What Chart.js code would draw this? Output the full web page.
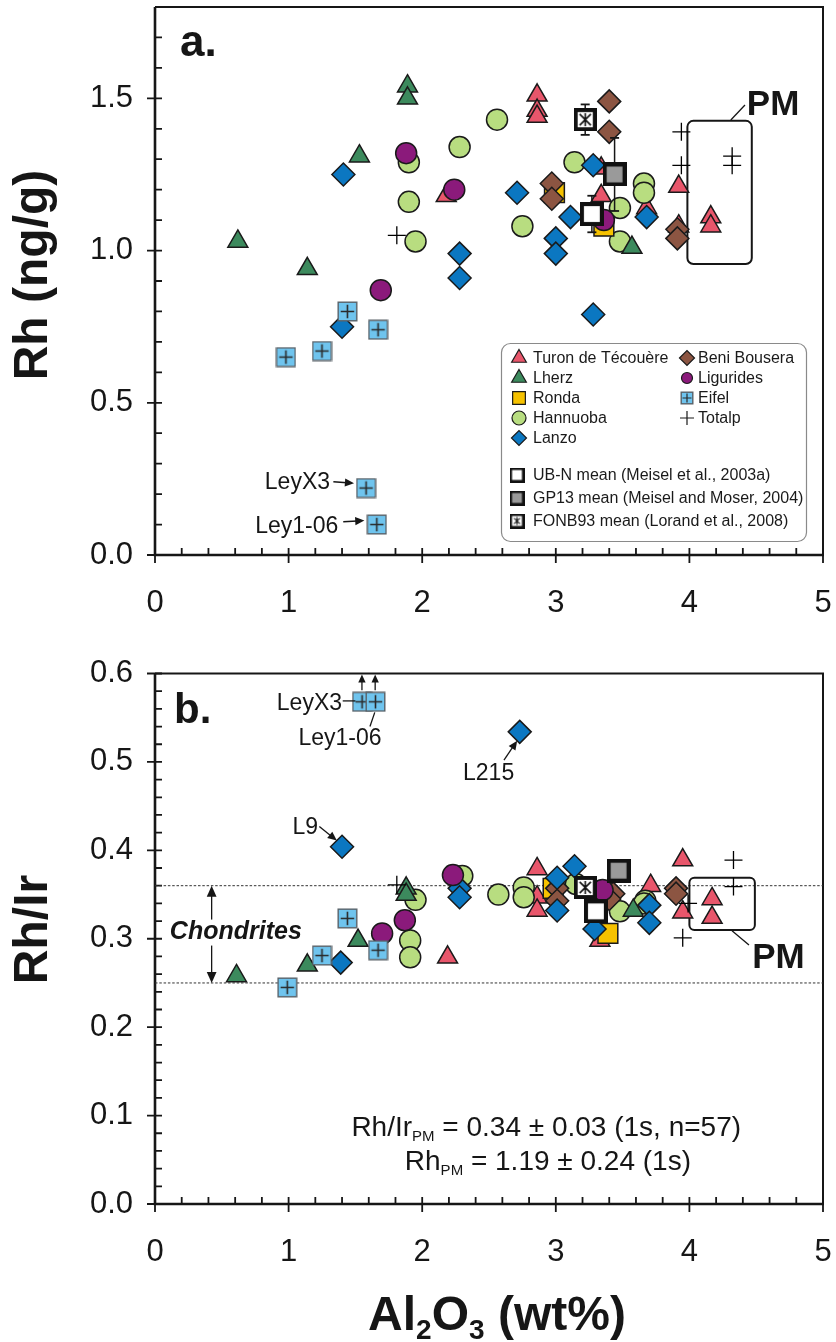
<!DOCTYPE html>
<html>
<head>
<meta charset="utf-8">
<script src="https://cdn.jsdelivr.net/npm/chart.js@4.4.1/dist/chart.umd.min.js"></script>
<style>
html, body { margin: 0; padding: 0; background: #fff; }
#page { position: relative; width: 836px; height: 1342px; overflow: hidden; }
#ca { position: absolute; left: 0; top: 0; }
#cb { position: absolute; left: 0; top: 625px; }
</style>
</head>
<body>
<div id="page">
  <canvas id="ca" width="836" height="625"></canvas>
  <canvas id="cb" width="836" height="717"></canvas>
</div>
<script>
// categories / ticks
const groupNames = ['Turon de Técouère', 'Lherz', 'Ronda', 'Hannuoba', 'Lanzo', 'Beni Bousera', 'Ligurides', 'Eifel', 'Totalp'];
const meanNames = ['UB-N mean (Meisel et al., 2003a)', 'GP13 mean (Meisel and Moser, 2004)', 'FONB93 mean (Lorand et al., 2008)'];
const xTicks = [0, 1, 2, 3, 4, 5];
const yTicksA = [0, 0.5, 1.0, 1.5];
const yTicksB = [0, 0.1, 0.2, 0.3, 0.4, 0.5, 0.6];

// panel a : Al2O3 (wt%) vs Rh (ng/g)
const turonAlA = [2.86, 2.86, 2.86, 2.18, 3.34, 3.34, 3.68, 3.92, 4.16, 4.16, 3.92];
const turonRhA = [1.51, 1.46, 1.44, 1.18, 1.27, 1.18, 1.14, 1.21, 1.11, 1.08, 1.08];
const lherzAlA = [1.89, 1.89, 1.53, 0.62, 1.14, 3.57];
const lherzRhA = [1.54, 1.50, 1.31, 1.03, 0.94, 1.01];
const rondaAlA = [2.99, 3.36];
const rondaRhA = [1.19, 1.08];
const hannAlA = [2.56, 2.28, 1.90, 1.90, 1.95, 3.14, 3.66, 3.66, 2.75, 3.48, 3.48];
const hannRhA = [1.43, 1.34, 1.29, 1.16, 1.03, 1.29, 1.22, 1.19, 1.08, 1.14, 1.03];
const lanzoAlA = [1.41, 2.28, 2.28, 1.40, 2.71, 3.28, 3.11, 3.00, 3.00, 3.68, 3.28];
const lanzoRhA = [1.25, 0.99, 0.91, 0.75, 1.19, 1.28, 1.11, 1.04, 0.99, 1.11, 0.79];
const beniAlA = [3.40, 3.40, 2.97, 2.97, 3.91, 3.91];
const beniRhA = [1.49, 1.39, 1.22, 1.17, 1.07, 1.04];
const ligAlA = [1.88, 2.24, 1.69, 3.36];
const ligRhA = [1.32, 1.20, 0.87, 1.10];
const eifelAlA = [1.44, 1.67, 1.25, 0.98, 1.58, 1.66];
const eifelRhA = [0.80, 0.74, 0.67, 0.65, 0.22, 0.10];
const totalpAlA = [1.81, 3.94, 3.94, 4.32, 4.32];
const totalpRhA = [1.05, 1.39, 1.28, 1.31, 1.28];
const meanAlA = [3.27, 3.44, 3.22];
const meanRhA = [1.12, 1.25, 1.43];
const meanRhErr = [0.06, 0.12, 0.05];

// panel b : Al2O3 (wt%) vs Rh/Ir
const turonAlB = [2.86, 2.86, 2.86, 2.19, 3.71, 3.95, 3.95, 4.17, 4.17, 3.33];
const turonRatioB = [0.379, 0.347, 0.332, 0.279, 0.360, 0.389, 0.330, 0.345, 0.324, 0.298];
const lherzAlB = [0.61, 1.14, 1.52, 1.88, 1.88, 3.58];
const lherzRatioB = [0.258, 0.270, 0.298, 0.357, 0.350, 0.332];
const rondaAlB = [3.39, 2.98];
const rondaRatioB = [0.306, 0.357];
const hannAlB = [1.95, 1.91, 1.91, 2.30, 2.57, 2.76, 2.76, 3.15, 3.48, 3.67, 3.66];
const hannRatioB = [0.344, 0.298, 0.279, 0.371, 0.350, 0.358, 0.347, 0.362, 0.331, 0.343, 0.340];
const lanzoAlB = [2.73, 1.40, 1.39, 2.28, 2.28, 3.01, 3.01, 3.14, 3.29, 3.70, 3.70];
const lanzoRatioB = [0.534, 0.404, 0.273, 0.357, 0.347, 0.369, 0.332, 0.382, 0.311, 0.338, 0.318];
const beniAlB = [3.01, 3.01, 3.43, 3.40, 3.90, 3.90];
const beniRatioB = [0.357, 0.343, 0.351, 0.345, 0.357, 0.351];
const ligAlB = [2.23, 1.87, 1.70, 3.35];
const ligRatioB = [0.372, 0.321, 0.306, 0.355];
const eifelAlB = [1.55, 1.65, 1.44, 1.67, 1.25, 0.99];
const eifelRatioB = [0.568, 0.568, 0.323, 0.287, 0.281, 0.245];
const totalpAlB = [1.81, 4.33, 4.33, 3.95, 3.99];
const totalpRatioB = [0.361, 0.389, 0.359, 0.301, 0.340];
const meanAlB = [3.30, 3.47, 3.22];
const meanRatioB = [0.331, 0.377, 0.358];

// chondrite range
const chondriteRange = [0.25, 0.36];

const SANS = "'Liberation Sans', Arial, sans-serif";
const TICKF = "'Liberation Sans', Arial, sans-serif";
const INK = '#161616';

function pts(xs, ys) { return xs.map((x, i) => ({ x: x, y: ys[i] })); }

function makeImg(size, fn) {
  const c = document.createElement('canvas');
  c.width = size; c.height = size;
  fn(c.getContext('2d'), size);
  return c;
}
function eifelImg(s) {
  return makeImg(s, (g, s) => {
    g.fillStyle = '#6fc4ee'; g.fillRect(1, 1, s - 2, s - 2);
    g.strokeStyle = '#5a6268'; g.lineWidth = 1.4; g.strokeRect(1.2, 1.2, s - 2.4, s - 2.4);
    g.strokeStyle = '#2a2a2a'; g.lineWidth = s > 16 ? 1.6 : 1.2;
    g.beginPath();
    g.moveTo(s / 2, s * 0.18); g.lineTo(s / 2, s * 0.82);
    g.moveTo(s * 0.18, s / 2); g.lineTo(s * 0.82, s / 2);
    g.stroke();
  });
}
function meanImg(s, fill, star) {
  return makeImg(s, (g, s) => {
    const b = Math.max(2.5, s * 0.17);
    g.fillStyle = '#111'; g.fillRect(0, 0, s, s);
    g.fillStyle = fill; g.fillRect(b, b, s - 2 * b, s - 2 * b);
    if (star) {
      const m = b + 2, e = s - b - 2;
      g.strokeStyle = '#111'; g.lineWidth = s > 16 ? 1.6 : 1.1;
      g.beginPath();
      g.moveTo(m, m); g.lineTo(e, e); g.moveTo(e, m); g.lineTo(m, e);
      g.moveTo(s / 2, m - 1); g.lineTo(s / 2, e + 1);
      g.stroke();
    }
  });
}

const styles = {
  'Turon de Técouère': { pointStyle: 'triangle', r: 11.5, bg: '#e8566b', order: 10 },
  'Lherz': { pointStyle: 'triangle', r: 11.5, bg: '#3c8a5d', order: 8 },
  'Ronda': { pointStyle: 'rect', r: 14, bg: '#f6c200', order: 7 },
  'Hannuoba': { pointStyle: 'circle', r: 10.5, bg: '#b8dd80', order: 9 },
  'Lanzo': { pointStyle: 'rectRot', r: 11.5, bg: '#0b77c1', order: 5 },
  'Beni Bousera': { pointStyle: 'rectRot', r: 11.5, bg: '#8c5542', order: 6 },
  'Ligurides': { pointStyle: 'circle', r: 10.5, bg: '#8b1a7b', order: 4 },
  'Eifel': { pointStyle: eifelImg(21), r: 10, bg: '#6fc4ee', order: 3 },
  'Totalp': { pointStyle: 'cross', r: 9, bg: '#000', order: 2 }
};
const meanStyles = [meanImg(24, '#ffffff', false), meanImg(24, '#9a9a9a', false), meanImg(23, '#ffffff', true)];
const meanLegendStyles = [meanImg(15, '#ffffff', false), meanImg(15, '#9a9a9a', false), meanImg(15, '#ffffff', true)];

function groupSet(name, data) {
  const s = styles[name];
  return {
    label: name, data: data, order: s.order,
    pointStyle: s.pointStyle, pointRadius: s.r, pointHoverRadius: s.r,
    pointBackgroundColor: s.bg,
    pointBorderColor: name === 'Totalp' ? '#000' : '#1a1a1a',
    pointBorderWidth: name === 'Totalp' ? 1.3 : 1.5,
    showLine: false
  };
}
function meanSets(xs, ys) {
  return meanNames.map((n, i) => ({
    label: n, data: [{ x: xs[i], y: ys[i] }], order: 0,
    pointStyle: meanStyles[i], pointRadius: 12, showLine: false
  }));
}
function errorSets(xs, ys, errs) {
  return xs.map((x, i) => ({
    label: meanNames[i] + ' error', order: 1,
    data: [{ x: x, y: ys[i] - errs[i] }, { x: x, y: ys[i] + errs[i] }],
    showLine: true, borderColor: INK, borderWidth: 1.5,
    pointStyle: 'line', pointRadius: 4.5, pointBorderColor: INK, pointBorderWidth: 1.8
  }));
}

// ---------- drawing helpers
function frameTicks(chart, yMinor, yMajorEvery) {
  const { ctx, chartArea: a, scales: { x, y } } = chart;
  ctx.save();
  ctx.strokeStyle = INK;
  ctx.lineWidth = 2;
  ctx.beginPath();
  ctx.moveTo(a.left, a.top); ctx.lineTo(a.right, a.top); ctx.lineTo(a.right, a.bottom);
  ctx.stroke();
  ctx.lineWidth = 2.6;
  ctx.beginPath();
  ctx.moveTo(a.left, a.top); ctx.lineTo(a.left, a.bottom); ctx.lineTo(a.right + 1, a.bottom);
  ctx.stroke();
  ctx.lineWidth = 1.8;
  ctx.beginPath();
  const nx = Math.round((x.max - x.min) / 0.2);
  for (let i = 0; i <= nx; i++) {
    const px = x.getPixelForValue(x.min + i * 0.2);
    ctx.moveTo(px, a.bottom + (i % 5 === 0 ? 8 : 0));
    ctx.lineTo(px, a.bottom - 7);
  }
  const ny = Math.round((y.max - y.min) / yMinor);
  for (let j = 0; j <= ny; j++) {
    const py = y.getPixelForValue(y.min + j * yMinor);
    ctx.moveTo(a.left - (j % yMajorEvery === 0 ? 8 : 0), py);
    ctx.lineTo(a.left + 7, py);
  }
  ctx.stroke();
  ctx.restore();
}

function arrow(ctx, x1, y1, x2, y2, head) {
  const ang = Math.atan2(y2 - y1, x2 - x1);
  ctx.beginPath();
  ctx.moveTo(x1, y1);
  ctx.lineTo(x2 - Math.cos(ang) * head * 0.7, y2 - Math.sin(ang) * head * 0.7);
  ctx.stroke();
  ctx.beginPath();
  ctx.moveTo(x2, y2);
  ctx.lineTo(x2 - head * Math.cos(ang - 0.42), y2 - head * Math.sin(ang - 0.42));
  ctx.lineTo(x2 - head * Math.cos(ang + 0.42), y2 - head * Math.sin(ang + 0.42));
  ctx.closePath();
  ctx.fill();
}

function runs(ctx, x, y, parts, align) {
  let w = 0;
  parts.forEach(p => { ctx.font = p.f; w += ctx.measureText(p.t).width; });
  let cx = align === 'center' ? x - w / 2 : (align === 'right' ? x - w : x);
  ctx.textAlign = 'left';
  ctx.textBaseline = 'alphabetic';
  parts.forEach(p => {
    ctx.font = p.f;
    ctx.fillText(p.t, cx, y + (p.dy || 0));
    cx += ctx.measureText(p.t).width;
  });
}

function roundBox(ctx, x1, y1, x2, y2, r) {
  ctx.beginPath();
  ctx.roundRect(Math.min(x1, x2), Math.min(y1, y2), Math.abs(x2 - x1), Math.abs(y2 - y1), r);
  ctx.stroke();
}

// ---------- plugins
const panelA = {
  id: 'panelA',
  beforeDatasetsDraw(chart) {
    const { ctx, scales: { x, y } } = chart;
    frameTicks(chart, 0.1, 5);
    ctx.save();
    ctx.strokeStyle = INK; ctx.lineWidth = 2;
    roundBox(ctx, x.getPixelForValue(3.985), y.getPixelForValue(1.426), x.getPixelForValue(4.467), y.getPixelForValue(0.956), 6);
    ctx.restore();
  },
  afterDatasetsDraw(chart) {
    const { ctx, scales: { x, y } } = chart;
    const X = v => x.getPixelForValue(v), Y = v => y.getPixelForValue(v);
    ctx.save();
    ctx.fillStyle = INK; ctx.strokeStyle = INK;
    ctx.font = 'bold 44px ' + SANS; ctx.textAlign = 'left'; ctx.textBaseline = 'alphabetic';
    ctx.fillText('a.', X(0.187), Y(1.64));
    ctx.font = 'bold 35px ' + SANS;
    ctx.fillText('PM', X(4.43), Y(1.445));
    ctx.lineWidth = 1.3;
    ctx.beginPath(); ctx.moveTo(X(4.31), Y(1.429)); ctx.lineTo(X(4.416), Y(1.478)); ctx.stroke();
    ctx.font = '23px ' + SANS; ctx.textAlign = 'right';
    ctx.fillText('LeyX3', X(1.31), Y(0.218));
    ctx.fillText('Ley1-06', X(1.372), Y(0.072));
    ctx.lineWidth = 1.5;
    arrow(ctx, X(1.335), Y(0.241), X(1.49), Y(0.236), 10);
    arrow(ctx, X(1.409), Y(0.109), X(1.567), Y(0.113), 10);
    ctx.restore();
  },
  afterDraw(chart) {
    const ctx = chart.ctx;
    ctx.save();
    ctx.fillStyle = INK;
    ctx.translate(47, 275);
    ctx.rotate(-Math.PI / 2);
    ctx.font = 'bold 48px ' + SANS; ctx.textAlign = 'center'; ctx.textBaseline = 'alphabetic';
    ctx.fillText('Rh (ng/g)', 0, 0);
    ctx.restore();

    // legend
    ctx.save();
    ctx.fillStyle = '#fff'; ctx.strokeStyle = '#8a8a8a'; ctx.lineWidth = 1.2;
    ctx.beginPath(); ctx.roundRect(501.5, 343.5, 305, 198, 9); ctx.fill(); ctx.stroke();
    const items = [
      [groupNames[0], 519, 358, 8.5], [groupNames[1], 519, 378, 8.5], [groupNames[2], 519, 398, 9],
      [groupNames[3], 519, 418, 7], [groupNames[4], 519, 438, 7.5],
      [groupNames[5], 687, 358, 7.5], [groupNames[6], 687, 378, 5.5], [groupNames[7], 687, 398, 7], [groupNames[8], 687, 418, 7]
    ];
    items.forEach(([name, mx, my, r]) => {
      const s = styles[name];
      ctx.fillStyle = s.bg; ctx.strokeStyle = '#1a1a1a'; ctx.lineWidth = 1.2;
      const st = name === 'Eifel' ? eifelImg(14) : s.pointStyle;
      Chart.helpers.drawPoint(ctx, { pointStyle: st, radius: r, rotation: 0, borderWidth: 1.2 }, mx, my);
      ctx.fillStyle = '#1a1a1a'; ctx.font = '16px ' + SANS; ctx.textAlign = 'left'; ctx.textBaseline = 'middle';
      ctx.fillText(name, mx < 600 ? 533 : 698, my + 1);
    });
    meanNames.forEach((n, i) => {
      const my = [475, 498, 521][i];
      Chart.helpers.drawPoint(ctx, { pointStyle: meanLegendStyles[i], radius: 7, rotation: 0, borderWidth: 0 }, 517, my);
      ctx.fillStyle = '#1a1a1a'; ctx.font = '16px ' + SANS; ctx.textAlign = 'left'; ctx.textBaseline = 'middle';
      ctx.fillText(n, 533, my + 1);
    });
    ctx.restore();
  }
};

const panelB = {
  id: 'panelB',
  beforeDatasetsDraw(chart) {
    const { ctx, chartArea: a, scales: { x, y } } = chart;
    const X = v => x.getPixelForValue(v), Y = v => y.getPixelForValue(v);
    frameTicks(chart, 0.02, 5);
    ctx.save();
    ctx.strokeStyle = '#333'; ctx.lineWidth = 1; ctx.setLineDash([2.5, 1.8]);
    chondriteRange.forEach(v => {
      ctx.beginPath(); ctx.moveTo(a.left, Y(v)); ctx.lineTo(a.right, Y(v)); ctx.stroke();
    });
    ctx.setLineDash([]);
    ctx.strokeStyle = INK; ctx.lineWidth = 2;
    roundBox(ctx, X(4.0), Y(0.369), X(4.49), Y(0.310), 5);
    ctx.fillStyle = INK; ctx.lineWidth = 1.3;
    const ax = X(0.424), mid = Y(0.305);
    arrow(ctx, ax, mid, ax, Y(chondriteRange[1]), 12);
    arrow(ctx, ax, mid, ax, Y(chondriteRange[0]), 12);
    ctx.font = 'italic bold 25px ' + SANS;
    const tw = ctx.measureText('Chondrites').width;
    const tx = X(0.605), ty = Y(0.307);
    ctx.fillStyle = '#fff';
    ctx.fillRect(tx - tw / 2 - 2, ty - 13, tw + 4, 26);
    ctx.fillStyle = INK; ctx.textAlign = 'center'; ctx.textBaseline = 'middle';
    ctx.fillText('Chondrites', tx, ty);
    ctx.restore();
  },
  afterDatasetsDraw(chart) {
    const { ctx, scales: { x, y } } = chart;
    const X = v => x.getPixelForValue(v), Y = v => y.getPixelForValue(v);
    ctx.save();
    ctx.fillStyle = INK; ctx.strokeStyle = INK;
    ctx.font = 'bold 42px ' + SANS; ctx.textAlign = 'left'; ctx.textBaseline = 'alphabetic';
    ctx.fillText('b.', X(0.142), Y(0.544));
    ctx.font = 'bold 35px ' + SANS;
    ctx.fillText('PM', X(4.47), Y(0.267));
    ctx.lineWidth = 1.3;
    ctx.beginPath(); ctx.moveTo(X(4.319), Y(0.309)); ctx.lineTo(X(4.446), Y(0.293)); ctx.stroke();

    ctx.font = '23px ' + SANS;
    ctx.textAlign = 'right';
    ctx.fillText('LeyX3', X(1.40), Y(0.559));
    ctx.fillText('L9', X(1.22), Y(0.418));
    ctx.textAlign = 'center';
    ctx.fillText('Ley1-06', X(1.385), Y(0.519));
    ctx.fillText('L215', X(2.497), Y(0.480));
    ctx.lineWidth = 1.3;
    ctx.beginPath(); ctx.moveTo(X(1.405), Y(0.569)); ctx.lineTo(X(1.50), Y(0.569)); ctx.stroke();
    ctx.beginPath(); ctx.moveTo(X(1.609), Y(0.540)); ctx.lineTo(X(1.645), Y(0.556)); ctx.stroke();
    arrow(ctx, X(1.549), Y(0.581), X(1.549), Y(0.599), 9);
    arrow(ctx, X(1.648), Y(0.581), X(1.648), Y(0.599), 9);
    arrow(ctx, X(1.23), Y(0.427), X(1.361), Y(0.411), 10);
    arrow(ctx, X(2.612), Y(0.502), X(2.711), Y(0.524), 10);

    const reg = '28px ' + SANS, sub = '15px ' + SANS;
    runs(ctx, X(1.47), Y(0.077), [{ t: 'Rh/Ir', f: reg }, { t: 'PM', f: sub, dy: 5 }, { t: ' = 0.34 ± 0.03 (1s, n=57)', f: reg }], 'left');
    runs(ctx, X(1.87), Y(0.038), [{ t: 'Rh', f: reg }, { t: 'PM', f: sub, dy: 5 }, { t: ' = 1.19 ± 0.24 (1s)', f: reg }], 'left');
    ctx.restore();
  },
  afterDraw(chart) {
    const ctx = chart.ctx;
    ctx.save();
    ctx.fillStyle = INK;
    ctx.translate(47, 304.5);
    ctx.rotate(-Math.PI / 2);
    ctx.font = 'bold 48px ' + SANS; ctx.textAlign = 'center'; ctx.textBaseline = 'alphabetic';
    ctx.fillText('Rh/Ir', 0, 0);
    ctx.restore();
    ctx.save();
    ctx.fillStyle = INK;
    const big = 'bold 48px ' + SANS, small = 'bold 28px ' + SANS;
    runs(ctx, 497, 705, [{ t: 'Al', f: big }, { t: '2', f: small, dy: 9 }, { t: 'O', f: big }, { t: '3', f: small, dy: 9 }, { t: ' (wt%)', f: big }], 'center');
    ctx.restore();
  }
};

function baseOptions(yMax, yTicks, top, xHeight) {
  return {
    animation: false, responsive: false, events: [],
    layout: { autoPadding: false, padding: { top: top, right: 13, left: 0, bottom: 0 } },
    plugins: { legend: { display: false }, tooltip: { enabled: false } },
    scales: {
      x: {
        type: 'linear', min: 0, max: 5,
        afterBuildTicks: s => { s.ticks = xTicks.map(v => ({ value: v })); },
        afterFit: s => { s.height = xHeight; s.paddingLeft = 0; s.paddingRight = 0; },
        grid: { display: false, drawTicks: false }, border: { display: false },
        ticks: { font: { family: TICKF, size: 31 }, color: INK, padding: 30, maxRotation: 0, autoSkip: false, callback: v => String(v) }
      },
      y: {
        type: 'linear', min: 0, max: yMax,
        afterBuildTicks: s => { s.ticks = yTicks.map(v => ({ value: v })); },
        afterFit: s => { s.width = 155; s.paddingTop = 0; s.paddingBottom = 0; },
        grid: { display: false, drawTicks: false }, border: { display: false },
        ticks: { font: { family: TICKF, size: 31 }, color: INK, padding: 22, autoSkip: false, callback: v => Number(v).toFixed(1) }
      }
    }
  };
}

new Chart(document.getElementById('ca'), {
  type: 'scatter',
  data: {
    datasets: [
      groupSet('Turon de Técouère', pts(turonAlA, turonRhA)),
      groupSet('Lherz', pts(lherzAlA, lherzRhA)),
      groupSet('Ronda', pts(rondaAlA, rondaRhA)),
      groupSet('Hannuoba', pts(hannAlA, hannRhA)),
      groupSet('Lanzo', pts(lanzoAlA, lanzoRhA)),
      groupSet('Beni Bousera', pts(beniAlA, beniRhA)),
      groupSet('Ligurides', pts(ligAlA, ligRhA)),
      groupSet('Eifel', pts(eifelAlA, eifelRhA)),
      groupSet('Totalp', pts(totalpAlA, totalpRhA))
    ].concat(errorSets(meanAlA, meanRhA, meanRhErr), meanSets(meanAlA, meanRhA))
  },
  options: baseOptions(1.8, yTicksA, 7, 70),
  plugins: [panelA]
});

new Chart(document.getElementById('cb'), {
  type: 'scatter',
  data: {
    datasets: [
      groupSet('Turon de Técouère', pts(turonAlB, turonRatioB)),
      groupSet('Lherz', pts(lherzAlB, lherzRatioB)),
      groupSet('Ronda', pts(rondaAlB, rondaRatioB)),
      groupSet('Hannuoba', pts(hannAlB, hannRatioB)),
      groupSet('Lanzo', pts(lanzoAlB, lanzoRatioB)),
      groupSet('Beni Bousera', pts(beniAlB, beniRatioB)),
      groupSet('Ligurides', pts(ligAlB, ligRatioB)),
      groupSet('Eifel', pts(eifelAlB, eifelRatioB)),
      groupSet('Totalp', pts(totalpAlB, totalpRatioB))
    ].concat(meanSets(meanAlB, meanRatioB))
  },
  options: baseOptions(0.6, yTicksB, 48.5, 138),
  plugins: [panelB]
});
</script>
</body>
</html>
